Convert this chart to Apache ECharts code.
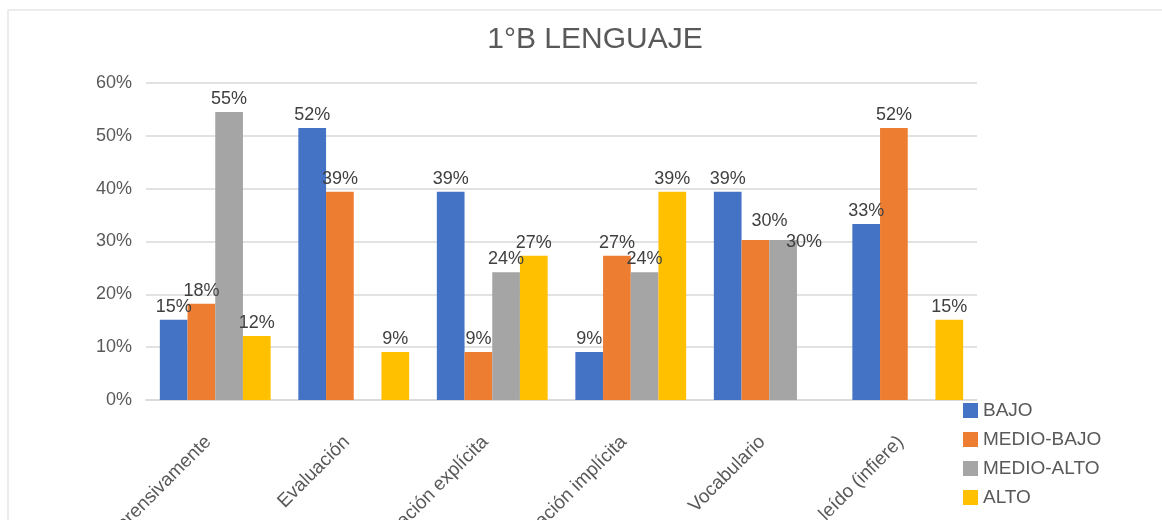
<!DOCTYPE html>
<html>
<head>
<meta charset="utf-8">
<script src="https://cdn.jsdelivr.net/npm/echarts@6/dist/echarts.min.js"></script>
<style>
    html, body { margin: 0; padding: 0; background: #fff; }
    #chart { width: 1162px; height: 520px; }
</style>
</head>
<body>
<div id="chart"></div>
<script>
    // datos del gráfico
    var categories = ['Lee comprensivamente', 'Evaluación', 'Información explícita',
        'Información implícita', 'Vocabulario', 'Sentido de lo leído (infiere)'];
    var seriesNames = ['BAJO', 'MEDIO-BAJO', 'MEDIO-ALTO', 'ALTO'];
    var bajo = [15.2, 51.5, 39.4, 9.1, 39.4, 33.3];
    var medioBajo = [18.2, 39.4, 9.1, 27.3, 30.3, 51.5];
    var medioAlto = [54.5, null, 24.2, 24.2, 30.3, null];
    var alto = [12.1, 9.1, 27.3, 39.4, null, 15.2];
    var yTicks = [0, 10, 20, 30, 40, 50, 60];

    var colors = ['#4472C4', '#ED7D31', '#A5A5A5', '#FFC000'];
    var font = '"Liberation Sans", Arial, sans-serif';

    // etiquetas que Excel desplazó (serie, índice de categoría) -> desplazamiento
    var labelShift = {
        'MEDIO-BAJO': { 4: [14, -6] },
        'MEDIO-ALTO': { 4: [21, 15] }
    };

    function buildSeries(name, data, color) {
        var shifts = labelShift[name] || {};
        var items = data.map(function (v, i) {
            if (shifts[i]) {
                return { value: v, label: { offset: shifts[i] } };
            }
            return v;
        });
        return {
            name: name,
            type: 'bar',
            data: items,
            barGap: '0%',
            barCategoryGap: '20%',
            itemStyle: { color: color },
            label: {
                show: true,
                position: 'top',
                distance: 4,
                color: '#404040',
                fontSize: 18,
                fontFamily: font,
                formatter: function (p) { return Math.round(p.value) + '%'; }
            }
        };
    }

    var chart = echarts.init(document.getElementById('chart'));
    chart.setOption({
        animation: false,
        textStyle: { fontFamily: font },
        title: {
            text: '1°B LENGUAJE',
            left: 590,
            top: 20,
            textAlign: 'center',
            textStyle: { fontSize: 30, fontWeight: 'normal', color: '#595959', fontFamily: font }
        },
        graphic: [{
            type: 'rect',
            shape: { x: 8, y: 10, width: 1200, height: 600 },
            style: { fill: 'none', stroke: '#e6e6e6', lineWidth: 1.5 },
            silent: true
        }],
        legend: {
            orient: 'vertical',
            left: 958,
            top: 396,
            itemWidth: 15,
            itemHeight: 15,
            itemGap: 10,
            icon: 'rect',
            data: seriesNames,
            textStyle: { fontSize: 19, color: '#595959', fontFamily: font }
        },
        grid: {
            left: 146, right: 185, top: 83, bottom: 120,
            containLabel: false,
            outerBoundsMode: 'none'
        },
        xAxis: {
            type: 'category',
            data: categories,
            axisLine: { lineStyle: { color: '#d9d9d9', width: 1.5 } },
            axisTick: { show: false },
            axisLabel: {
                rotate: 45,
                margin: 32,
                padding: [0, 10, 0, 0],
                interval: 0,
                fontSize: 19,
                color: '#595959',
                fontFamily: font
            }
        },
        yAxis: {
            type: 'value',
            min: yTicks[0],
            max: yTicks[yTicks.length - 1],
            interval: yTicks[1] - yTicks[0],
            axisLine: { show: false },
            axisTick: { show: false },
            splitLine: { lineStyle: { color: '#d9d9d9', width: 1.5 } },
            axisLabel: {
                formatter: '{value}%',
                margin: 14,
                fontSize: 18,
                color: '#595959',
                fontFamily: font
            }
        },
        series: [
            buildSeries(seriesNames[0], bajo, colors[0]),
            buildSeries(seriesNames[1], medioBajo, colors[1]),
            buildSeries(seriesNames[2], medioAlto, colors[2]),
            buildSeries(seriesNames[3], alto, colors[3])
        ]
    });
</script>
</body>
</html>
